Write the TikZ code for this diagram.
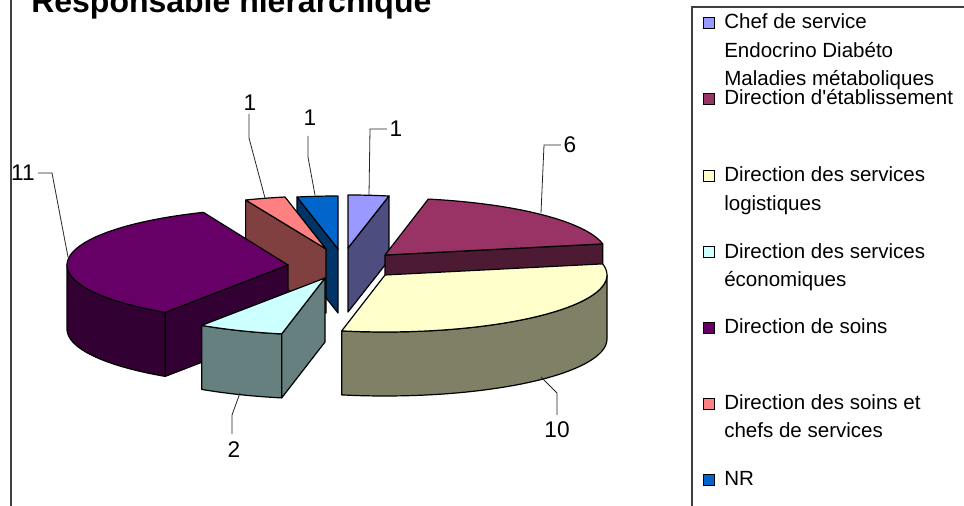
\documentclass[tikz,border=0pt]{standalone}
\usepackage{fontspec}
\setmainfont{Liberation Sans}
\definecolor{nrT}{HTML}{0066CC}\definecolor{nrS}{HTML}{003366}
\definecolor{chT}{HTML}{9999FF}\definecolor{chS}{HTML}{4D4D80}
\definecolor{scT}{HTML}{FF8080}\definecolor{scS}{HTML}{804040}
\definecolor{etT}{HTML}{993366}\definecolor{etS}{HTML}{4D1A33}
\definecolor{soT}{HTML}{660066}\definecolor{soS}{HTML}{330033}
\definecolor{loT}{HTML}{FFFFCC}\definecolor{loS}{HTML}{808066}
\definecolor{ecT}{HTML}{CCFFFF}\definecolor{ecS}{HTML}{668080}
\def\pieh{64}
\tikzset{
  pieline/.style={draw=black, line width=0.9pt, line join=round},
  leader/.style={draw=black!85, line width=0.6pt},
  lbl/.style={font=\fontsize{17}{20}\selectfont, inner sep=0pt},
  legtxt/.style={font=\fontsize{15.4}{18}\selectfont, anchor=base west, inner sep=0pt},
  legsq/.style={draw=black, line width=1pt, minimum size=8.2pt, inner sep=0pt},
  frame/.style={draw=black!75, line width=0.8pt}
}
% top face: cx cy rx ry a b colour
\newcommand\slicetop[7]{\filldraw[fill=#7, pieline] (#1,#2) -- plot[domain=#5:#6,samples=40] ({#1+#3*cos(\x)},{#2+#4*sin(\x)}) -- cycle;}
% radial cut face: cx cy rx ry angle colour
\newcommand\slicecut[6]{\filldraw[fill=#6, pieline] (#1,#2) -- ({#1+#3*cos(#5)},{#2+#4*sin(#5)}) -- ({#1+#3*cos(#5)},{#2+#4*sin(#5)+\pieh}) -- ({#1},{#2+\pieh}) -- cycle;}
% outer curved face: cx cy rx ry a b colour
\newcommand\sliceouter[7]{\filldraw[fill=#7, pieline] plot[domain=#5:#6,samples=40] ({#1+#3*cos(\x)},{#2+#4*sin(\x)}) -- plot[domain=#6:#5,samples=40] ({#1+#3*cos(\x)},{#2+#4*sin(\x)+\pieh}) -- cycle;}
\begin{document}
\begin{tikzpicture}[x=0.75pt, y=-0.75pt]
\useasboundingbox (0,0) rectangle (964,506);
\clip (0,0) rectangle (964,506);
% frames
\draw[frame] (11,-5) -- (11,515);
\draw[frame] (692,515) -- (692,7) -- (975,7);
% title
\node[anchor=base west, inner sep=0pt, font=\bfseries\fontsize{24}{28}\selectfont] (title) at (31,13) {Responsable hiérarchique};
% slices, back to front
% NR
\slicecut{338}{249}{210}{53}{258.75}{nrS}
\slicetop{338}{249}{210}{53}{258.75}{270}{nrT}
% Chef de service
\slicecut{348}{248}{210}{53}{281.25}{chS}
\slicetop{348}{248}{210}{53}{270}{281.25}{chT}
% Soins et chefs
\slicecut{326}{249}{210}{53}{247.5}{scS}
\slicetop{326}{249}{210}{53}{247.5}{258.75}{scT}
% Direction d'etablissement
\slicecut{385}{255}{222}{57}{348.75}{etS}
\slicetop{385}{255}{222}{57}{281.25}{348.75}{etT}
% Direction de soins
\sliceouter{288}{265}{221}{57}{123.75}{180}{soS}
\slicecut{288}{265}{221}{57}{123.75}{soS}
\slicetop{288}{265}{221}{57}{123.75}{247.5}{soT}
% logistiques
\sliceouter{385}{275}{222}{57}{0}{101.25}{loS}
\slicetop{385}{275}{222}{57}{348.75}{461.25}{loT}
% economiques
\sliceouter{325}{278}{222}{57}{101.25}{123.75}{ecS}
\slicecut{325}{278}{222}{57}{101.25}{ecS}
\slicetop{325}{278}{222}{57}{101.25}{123.75}{ecT}
% data labels
\node[lbl] (v11) at (23,173) {11};
\node[lbl] (vsc) at (250,103) {1};
\node[lbl] (vnr) at (310,118) {1};
\node[lbl] (vch) at (396,129) {1};
\node[lbl] (v6) at (570,145) {6};
\node[lbl] (v10) at (557,430) {10};
\node[lbl] (v2) at (234,450) {2};
\coordinate (a11) at (38,173); \coordinate (b11) at (52,173); \coordinate (c11) at (68,257);
\draw[leader] (a11) -- (b11) -- (c11);
\coordinate (asc) at (249,114); \coordinate (bsc) at (249,138); \coordinate (csc) at (265,198);
\draw[leader] (asc) -- (bsc) -- (csc);
\coordinate (anr) at (308,136); \coordinate (bnr) at (308,157); \coordinate (cnr) at (315,195);
\draw[leader] (anr) -- (bnr) -- (cnr);
\coordinate (ach) at (387,129); \coordinate (bch) at (370,129); \coordinate (cch) at (369,195);
\draw[leader] (ach) -- (bch) -- (cch);
\coordinate (a6) at (561,145); \coordinate (b6) at (544,145); \coordinate (c6) at (541,213);
\draw[leader] (a6) -- (b6) -- (c6);
\coordinate (a10) at (557,415); \coordinate (b10) at (557,393); \coordinate (c10) at (541,377);
\draw[leader] (a10) -- (b10) -- (c10);
\coordinate (a2) at (232,434); \coordinate (b2) at (232,415); \coordinate (c2) at (240,393);
\draw[leader] (a2) -- (b2) -- (c2);
% legend
\node[legsq, fill=chT] (s1) at (709,23) {};
\node[legsq, fill=etT] (s2) at (709,99) {};
\node[legsq, fill=loT] (s3) at (709,176) {};
\node[legsq, fill=ecT] (s4) at (709,252) {};
\node[legsq, fill=soT] (s5) at (709,328) {};
\node[legsq, fill=scT] (s6) at (709,404) {};
\node[legsq, fill=nrT] (s7) at (709,480) {};
\node[legtxt] (t1a) at (724,29) {Chef de service};
\node[legtxt] (t1b) at (724,57.5) {Endocrino Diabéto};
\node[legtxt] (t1c) at (724,86) {Maladies métaboliques};
\node[legtxt] (t2) at (724,105) {Direction d\textquotesingle établissement};
\node[legtxt] (t3a) at (724,182) {Direction des services};
\node[legtxt] (t3b) at (724,210) {logistiques};
\node[legtxt] (t4a) at (724,258) {Direction des services};
\node[legtxt] (t4b) at (724,286) {économiques};
\node[legtxt] (t5) at (724,333) {Direction de soins};
\node[legtxt] (t6a) at (724,409) {Direction des soins et};
\node[legtxt] (t6b) at (724,437) {chefs de services};
\node[legtxt] (t7) at (724,485) {NR};
\end{tikzpicture}
\end{document}
